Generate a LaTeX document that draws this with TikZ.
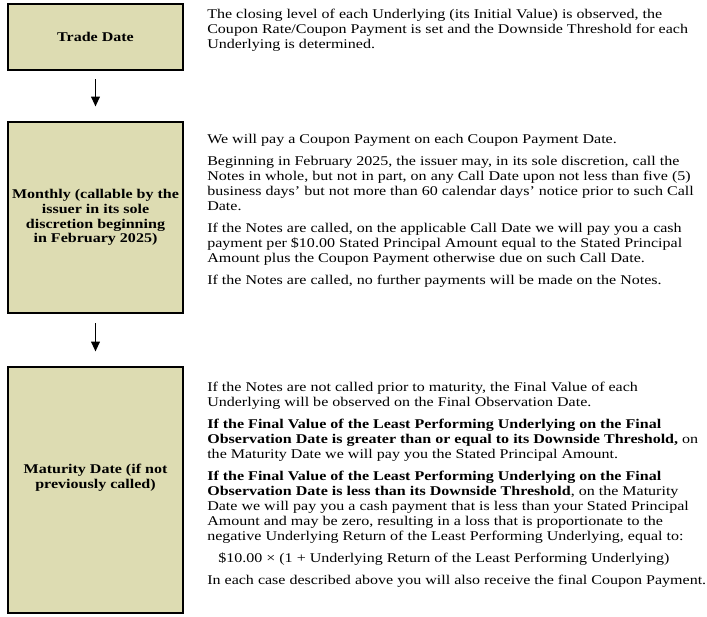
\documentclass[tikz,border=0pt]{standalone}
\usepackage{fontspec}
\setmainfont{Liberation Serif}[FakeStretch=1.2]
\usepackage{tikz}
\usetikzlibrary{arrows.meta, positioning, calc}
\definecolor{khaki}{RGB}{221,220,178}

\begin{document}
\begin{tikzpicture}[
    datebox/.style={draw, rectangle, line width=2.1pt, fill=khaki, minimum width=4.375cm,
      align=center, inner sep=0pt, font=\fontsize{9.5}{10.4}\selectfont\bfseries},
    desc/.style={anchor=north west, inner sep=0pt, align=left,
      font=\fontsize{9.5}{10.67}\selectfont},
    flow/.style={line width=1.4pt, -{Triangle[length=7pt, width=6pt]}}
  ]
\useasboundingbox (0,0) rectangle (17.675,-15.4);

% Trade date
\node[datebox, minimum height=1.65cm] (trade) at (2.3875,-0.925) {Trade Date};
\node[desc] (tradetxt) at (5.175,-0.22) {The closing level of each Underlying (its Initial Value) is observed, the\\
Coupon Rate/Coupon Payment is set and the Downside Threshold for each\\
Underlying is determined.};

% Monthly
\node[datebox, minimum height=4.775cm] (monthly) at (2.3875,-5.4375) {Monthly (callable by the\\
issuer in its sole\\
discretion beginning\\
in February 2025)};
\node[desc] (monthlytxt) at (5.175,-3.345) {We will pay a Coupon Payment on each Coupon Payment Date.\\[4.98pt]
Beginning in February 2025, the issuer may, in its sole discretion, call the\\
Notes in whole, but not in part, on any Call Date upon not less than five (5)\\
business days’ but not more than 60 calendar days’ notice prior to such Call\\
Date.\\[4.98pt]
If the Notes are called, on the applicable Call Date we will pay you a cash\\
payment per \$10.00 Stated Principal Amount equal to the Stated Principal\\
Amount plus the Coupon Payment otherwise due on such Call Date.\\[4.98pt]
If the Notes are called, no further payments will be made on the Notes.};

% Maturity
\node[datebox, minimum height=6.15cm] (maturity) at (2.3875,-12.25) {};
\node[datebox, draw=none, fill=none] (maturitylbl) at (2.3875,-11.95) {Maturity Date (if not\\
previously called)};
\node[desc] (maturitytxt) at (5.175,-9.545) {If the Notes are not called prior to maturity, the Final Value of each\\
Underlying will be observed on the Final Observation Date.\\[4.98pt]
\textbf{If the Final Value of the Least Performing Underlying on the Final}\\
\textbf{Observation Date is greater than or equal to its Downside Threshold,} on\\
the Maturity Date we will pay you the Stated Principal Amount.\\[4.98pt]
\textbf{If the Final Value of the Least Performing Underlying on the Final}\\
\textbf{Observation Date is less than its Downside Threshold}, on the Maturity\\
Date we will pay you a cash payment that is less than your Stated Principal\\
Amount and may be zero, resulting in a loss that is proportionate to the\\
negative Underlying Return of the Least Performing Underlying, equal to:\\[4.98pt]
\hspace*{0.275cm}\$10.00 × (1 + Underlying Return of the Least Performing Underlying)\\[4.98pt]
In each case described above you will also receive the final Coupon Payment.};

% Arrows
\draw[flow, shorten <=0.2cm, shorten >=0.35cm] (trade) -- (monthly);
\draw[flow, shorten <=0.225cm, shorten >=0.35cm] (monthly) -- (maturity);
\end{tikzpicture}
\end{document}
